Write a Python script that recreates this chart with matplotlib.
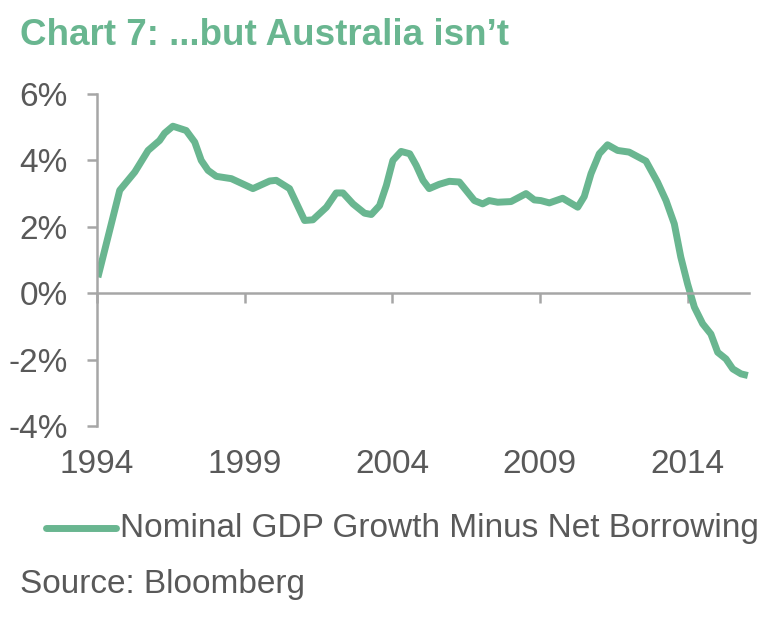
import matplotlib
matplotlib.use('Agg')
import matplotlib.pyplot as plt
import matplotlib.transforms as mtransforms

# values (year, % )
years = [1994.03, 1994.77, 1995.28, 1995.73, 1996.12, 1996.29, 1996.57, 1997.02,
         1997.31, 1997.53, 1997.76, 1998.04, 1998.55, 1999.28, 1999.85, 2000.07,
         2000.52, 2001.03, 2001.31, 2001.77, 2002.10, 2002.33, 2002.67, 2003.06,
         2003.29, 2003.57, 2003.80, 2004.02, 2004.30, 2004.59, 2004.81, 2005.04,
         2005.25, 2005.59, 2005.93, 2006.27, 2006.78, 2007.06, 2007.28, 2007.57,
         2008.02, 2008.53, 2008.81, 2009.03, 2009.32, 2009.77, 2010.28, 2010.50,
         2010.73, 2011.01, 2011.29, 2011.63, 2012.02, 2012.59, 2012.98, 2013.27,
         2013.55, 2013.77, 2014.00, 2014.23, 2014.51, 2014.79, 2015.02, 2015.30,
         2015.53, 2015.81, 2016.04]
values = [0.48, 3.10, 3.65, 4.30, 4.60, 4.82, 5.03, 4.90,
          4.55, 4.00, 3.70, 3.52, 3.45, 3.15, 3.38, 3.40,
          3.15, 2.19, 2.21, 2.59, 3.02, 3.02, 2.69, 2.41,
          2.37, 2.64, 3.25, 4.00, 4.27, 4.20, 3.85, 3.40,
          3.15, 3.28, 3.37, 3.35, 2.79, 2.69, 2.79, 2.74,
          2.76, 3.00, 2.81, 2.79, 2.72, 2.86, 2.59, 2.91,
          3.60, 4.20, 4.47, 4.30, 4.25, 3.98, 3.35, 2.79,
          2.09, 1.09, 0.28, -0.42, -0.92, -1.23, -1.78, -1.98,
          -2.28, -2.43, -2.48]

series_name = 'Nominal GDP Growth Minus Net Borrowing'
title = 'Chart 7: ...but Australia isn\u2019t'
source = 'Source: Bloomberg'
x_ticks = [1994, 1999, 2004, 2009, 2014]
y_ticks = [-4, -2, 0, 2, 4, 6]

green = '#69B690'
text_grey = '#595959'
axis_grey = '#A6A6A6'

plt.rcParams['font.family'] = ['Liberation Sans', 'DejaVu Sans']

fig = plt.figure(figsize=(7.6, 6.18), dpi=100)
ax = fig.add_axes([97 / 760, 1 - 426 / 618, (749 - 97) / 760, (426 - 94) / 618])

line, = ax.plot(years, values, color=green, lw=5, solid_capstyle='butt',
                solid_joinstyle='round')

ax.set_xlim(1994, 2016.08)
ax.set_ylim(-4, 6)

for s in ['top', 'right']:
    ax.spines[s].set_visible(False)
ax.spines['left'].set_color(axis_grey)
ax.spines['bottom'].set_color(axis_grey)
ax.spines['left'].set_linewidth(1.8)
ax.spines['bottom'].set_linewidth(1.8)
ax.spines['bottom'].set_position(('data', 0))

ax.set_yticks(y_ticks)
ax.set_yticklabels(['{}%'.format(v) for v in y_ticks])
ax.tick_params(axis='y', direction='out', length=7, width=1.8, color=axis_grey,
               labelsize=24, labelcolor=text_grey, pad=14)

ax.set_xticks(x_ticks)
ax.set_xticklabels([])
ax.tick_params(axis='x', direction='out', length=7, width=1.8, color=axis_grey)

# year labels sit below the plot, not at the zero line
trans = mtransforms.blended_transform_factory(ax.transData, ax.transAxes)
for yr in x_ticks:
    ax.text(yr, -0.07, str(yr), transform=trans, ha='center', va='top',
            fontsize=24, color=text_grey)

fig.text(20 / 760, 1 - 45 / 618, title, fontsize=26.5, fontweight='bold',
         color=green, va='baseline', ha='left')

# legend drawn by hand to match the layout
fig.add_artist(plt.Line2D([46 / 760, 116 / 760], [1 - 528 / 618, 1 - 528 / 618],
                          color=green, lw=5, solid_capstyle='round',
                          transform=fig.transFigure))
fig.text(120 / 760, 1 - 528 / 618, series_name, fontsize=24, color=text_grey,
         va='center', ha='left')
fig.text(20 / 760, 1 - 584 / 618, source, fontsize=24, color=text_grey,
         va='center', ha='left')

fig.savefig('out.png', dpi=100)
